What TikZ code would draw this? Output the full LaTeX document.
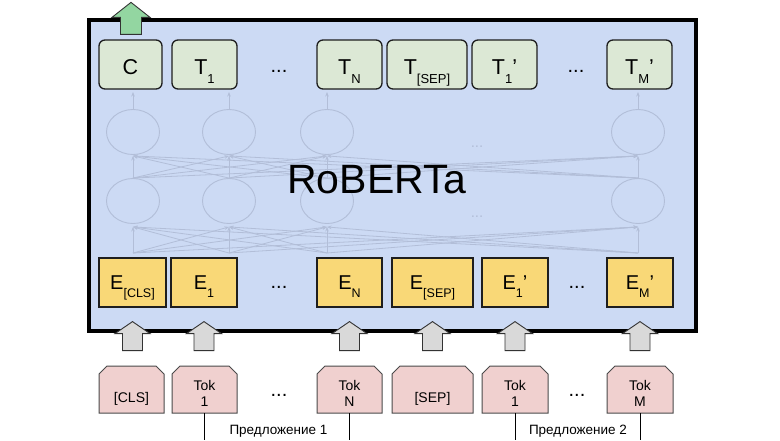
\documentclass[tikz,border=0pt]{standalone}
\usepackage{fontspec}
\setmainfont{Liberation Sans}
\usetikzlibrary{arrows.meta,calc,shapes.geometric}
\definecolor{bgblue}{HTML}{CCDAF4}
\definecolor{netc}{HTML}{B2BED8}
\definecolor{tfill}{HTML}{DCE8D5}
\definecolor{efill}{HTML}{F9D877}
\definecolor{tokfill}{HTML}{F0D0CF}
\definecolor{garrow}{HTML}{D9D9D9}
\definecolor{greenarrow}{HTML}{93D6A1}
\definecolor{bordc}{HTML}{1E1E1E}
\definecolor{tokbord}{HTML}{4A4A4A}
\newcommand{\tsb}[1]{\raisebox{-9pt}{\fontsize{13}{13}\selectfont #1}}
\newcommand{\esb}[1]{\raisebox{-8pt}{\fontsize{12.5}{13}\selectfont #1}}
\pgfdeclarelayer{bglayer}
\pgfsetlayers{bglayer,main}
\begin{document}
\begin{tikzpicture}[x=1pt,y=-1pt,
  modelbox/.style={draw=black,line width=3.5pt,fill=bgblue,inner sep=0pt,outer sep=0pt},
  netnode/.style={ellipse,draw=netc,line width=0.9pt,minimum width=53pt,minimum height=45pt,inner sep=0pt},
  netarrow/.style={draw=netc,line width=0.8pt,-{Stealth[length=4.5pt,width=3.5pt]}},
  tbox/.style={draw=bordc,line width=1.3pt,rounded corners=6pt,fill=tfill,minimum height=49pt,inner sep=0pt,
    font=\fontsize{21.5}{22}\selectfont,text height=19pt,text depth=0pt},
  ebox/.style={draw=bordc,line width=1.2pt,fill=efill,minimum height=49pt,inner sep=0pt,
    font=\fontsize{20}{21}\selectfont,text height=13pt,text depth=0pt},
  tokbox/.style={draw=none,minimum height=47pt,inner sep=0pt,outer sep=0pt},
  tokline/.style={draw=tokbord,line width=1pt,fill=tokfill},
  toklabA/.style={font=\fontsize{14}{16}\selectfont,align=center,text height=10pt,text depth=0pt,yshift=-8pt,inner sep=0pt},
  toklabB/.style={font=\fontsize{14}{16}\selectfont,align=center,yshift=-4pt,inner sep=0pt},
  dotsn/.style={font=\fontsize{20}{20}\selectfont,text height=3pt,text depth=0pt,inner sep=0pt},
  netdots/.style={font=\fontsize{15}{15}\selectfont,text=netc,text height=2pt,text depth=0pt,inner sep=0pt},
  title/.style={font=\fontsize{41}{41}\selectfont,inner sep=0pt},
  grayarrow/.style={draw=black!80,line width=0.9pt,fill=garrow,line join=miter},
  greenarr/.style={draw=black!80,line width=0.9pt,fill=greenarrow,line join=miter},
  sentline/.style={draw=black,line width=1pt},
  sentlab/.style={font=\fontsize{13.5}{13.5}\selectfont,inner sep=0pt}
]
\useasboundingbox (0,0) rectangle (780,440);

% main model box
\node[modelbox,minimum width=607pt,minimum height=311pt] (model) at (392.5,175.5) {};

% faint network
\foreach \i/\x in {1/133,2/229,3/327,4/638}{
  \node[netnode] (u\i) at (\x,132) {};
  \node[netnode] (l\i) at (\x,201) {};
  \coordinate (b\i) at (\x,253);
  \coordinate (t\i) at (\x,92);
}
\foreach \i in {1,...,4}{
  \draw[netarrow] (u\i.north) -- (t\i);
  \foreach \j in {1,...,4}{
    \draw[netarrow] (l\i.north) -- ([yshift=-1pt]u\j.south);
    \draw[netarrow] (b\i) -- ([yshift=-3pt]l\j.south);
  }
}
\node[netdots] (nd1) at (477,146) {...};
\node[netdots] (nd2) at (477,216) {...};

% title
\node[title] (rob) at (377,180) {RoBERTa};

% top output boxes
\node[tbox,minimum width=63pt] (C)  at (130.5,64.5) {C};
\node[tbox,minimum width=65pt] (T1) at (204.5,64.5) {T\tsb{1}};
\node[tbox,minimum width=65pt] (TN) at (349.5,64.5) {T\tsb{N}};
\node[tbox,minimum width=80pt] (TS) at (427,64.5) {T\tsb{[SEP]}};
\node[tbox,minimum width=65pt] (TA) at (504.5,64.5) {T\tsb{1}'};
\node[tbox,minimum width=65pt] (TM) at (639.5,64.5) {T\tsb{M}'};
\node[dotsn] (td1) at (279,71) {...};
\node[dotsn] (td2) at (576,71) {...};

% embedding boxes
\node[ebox,minimum width=67pt] (ECLS) at (132.5,282.5) {E\esb{[CLS]}};
\node[ebox,minimum width=66pt] (E1)   at (204,282.5) {E\esb{1}};
\node[ebox,minimum width=65pt] (EN)   at (349.5,282.5) {E\esb{N}};
\node[ebox,minimum width=81pt] (ES)   at (432.5,282.5) {E\esb{[SEP]}};
\node[ebox,minimum width=66pt] (EA)   at (515,282.5) {E\esb{1}'};
\node[ebox,minimum width=66pt] (EM)   at (640,282.5) {E\esb{M}'};
\node[dotsn] (ed1) at (279,287) {...};
\node[dotsn] (ed2) at (577,287) {...};

% green output arrow
\draw[greenarr] ($(C.north)+(0.5,-37)$) -- ++(19,15) -- ++(-8.5,0) -- ++(0,17) -- ++(-21,0) -- ++(0,-17) -- ++(-8.5,0) -- cycle;

% gray input arrows
\foreach \n in {ECLS,E1,EN,ES,EA,EM}{
  \draw[grayarrow] ($(\n.south)+(0,14)$) -- ++(17.5,12) -- ++(-7.5,0) -- ++(0,17) -- ++(-20,0) -- ++(0,-17) -- ++(-7.5,0) -- cycle;
}

% token boxes
\node[tokbox,minimum width=65pt,label={[toklabA]center:{[CLS]}}] (tcls) at (131.5,389.5) {};
\node[tokbox,minimum width=65pt,label={[toklabB]center:{Tok\\1}}] (tok1) at (204.5,389.5) {};
\node[tokbox,minimum width=65pt,label={[toklabB]center:{Tok\\N}}] (tokN) at (349.5,389.5) {};
\node[tokbox,minimum width=81pt,label={[toklabA]center:{[SEP]}}] (tsep) at (432.5,389.5) {};
\node[tokbox,minimum width=66pt,label={[toklabB]center:{Tok\\1}}] (tokA) at (515,389.5) {};
\node[tokbox,minimum width=66pt,label={[toklabB]center:{Tok\\M}}] (tokM) at (640,389.5) {};
\begin{pgfonlayer}{bglayer}
\foreach \n in {tcls,tok1,tokN,tsep,tokA,tokM}{
  \draw[tokline] (\n.south west) -- ([yshift=-8pt]\n.north west) -- ([xshift=8pt]\n.north west)
    -- ([xshift=-8pt]\n.north east) -- ([yshift=-8pt]\n.north east) -- (\n.south east) -- cycle;
}
\end{pgfonlayer}
\node[dotsn] (kd1) at (279,395) {...};
\node[dotsn] (kd2) at (577,395) {...};

% sentence brackets
\coordinate (s1a) at (204.5,440);
\coordinate (s1b) at (349.5,440);
\coordinate (s2a) at (515,440);
\coordinate (s2b) at (640,440);
\draw[sentline] (tok1.south) -- (s1a);
\draw[sentline] (tokN.south) -- (s1b);
\draw[sentline] (tokA.south) -- (s2a);
\draw[sentline] (tokM.south) -- (s2b);
\node[sentlab] (sent1) at (278.5,431) {Предложение 1};
\node[sentlab] (sent2) at (578,431) {Предложение 2};
\end{tikzpicture}
\end{document}
